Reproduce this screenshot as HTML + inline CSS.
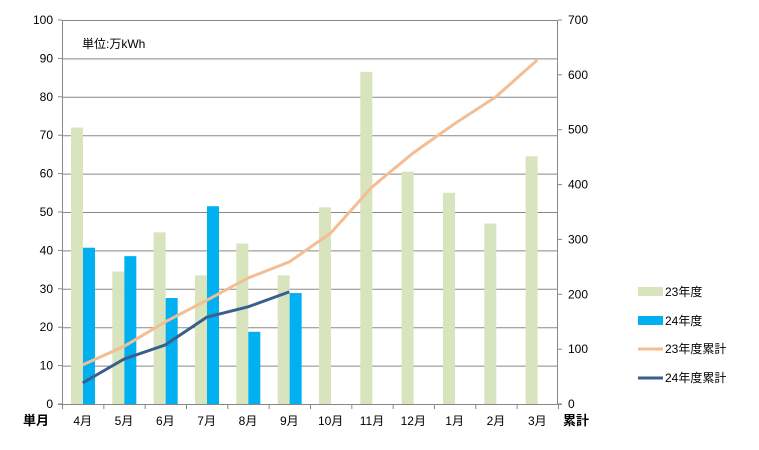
<!DOCTYPE html>
<html><head><meta charset="utf-8"><style>
body{margin:0;background:#fff}
text{font-family:"Liberation Sans","Noto Sans CJK JP",sans-serif;font-size:12px;fill:#000}
</style></head><body>
<svg width="759" height="445" xmlns="http://www.w3.org/2000/svg">
<g stroke="#888" stroke-width="1">
<line x1="62" y1="20.5" x2="558" y2="20.5"/><line x1="62" y1="58.9" x2="558" y2="58.9"/><line x1="62" y1="97.3" x2="558" y2="97.3"/><line x1="62" y1="135.7" x2="558" y2="135.7"/><line x1="62" y1="174.1" x2="558" y2="174.1"/><line x1="62" y1="212.5" x2="558" y2="212.5"/><line x1="62" y1="250.9" x2="558" y2="250.9"/><line x1="62" y1="289.3" x2="558" y2="289.3"/><line x1="62" y1="327.7" x2="558" y2="327.7"/><line x1="62" y1="366.1" x2="558" y2="366.1"/>
</g>
<g id="bars"></g>
<g stroke="#888" fill="none">
<line x1="62.5" y1="20" x2="62.5" y2="404"/><line x1="557.5" y1="20" x2="557.5" y2="404"/><line x1="58" y1="404.5" x2="562" y2="404.5"/>
</g>
<g id="ticks" stroke="#888"></g>
<polyline id="l1" fill="none" stroke="#F4BE94" stroke-width="3"/>
<polyline id="l2" fill="none" stroke="#3A5F8F" stroke-width="3"/>
<g id="labels"></g>
<text x="82" y="48">単位:万kWh</text>
<text x="23" y="425" font-weight="bold" style="font-size:13px">単月</text>
<text x="563" y="425" font-weight="bold" style="font-size:13px">累計</text>
<rect x="638" y="287" width="25" height="9" fill="#D7E4BD"/><text x="665" y="296">23年度</text>
<rect x="638" y="316" width="25" height="9" fill="#00B0F0"/><text x="665" y="325">24年度</text>
<line x1="638" y1="349" x2="663" y2="349" stroke="#F4BE94" stroke-width="3"/><text x="665" y="353">23年度累計</text>
<line x1="638" y1="378" x2="663" y2="378" stroke="#3A5F8F" stroke-width="3"/><text x="665" y="382">24年度累計</text>
</svg>
<script>
const ns="http://www.w3.org/2000/svg",Y=v=>404-v*3.84,W=41.33;
const g=[72,34.5,44.7,33.5,41.8,33.5,51.2,86.5,60.5,55,47,64.5],b=[40.7,38.5,27.6,51.5,18.8,28.9];
const o=[10.2,15,21.4,27,32.8,37,44.5,56.5,65.4,73,80,89.6],d=[5.5,11.7,15.4,22.6,25.3,29.2];
const m=["4月","5月","6月","7月","8月","9月","10月","11月","12月","1月","2月","3月"];
function el(t,a,p,txt){const e=document.createElementNS(ns,t);for(const k in a)e.setAttribute(k,a[k]);if(txt)e.textContent=txt;document.getElementById(p).appendChild(e);}
g.forEach((v,i)=>{const x=62+i*W;el("rect",{x:x+9,y:Y(v),width:12,height:v*3.84,fill:"#D7E4BD"},"bars");
if(b[i]!==undefined)el("rect",{x:x+21,y:Y(b[i]),width:12,height:b[i]*3.84,fill:"#00B0F0"},"bars");
el("text",{x:x+W/2,y:425,"text-anchor":"middle"},"labels",m[i]);});
for(let i=0;i<=12;i++){const x=62.5+i*W;el("line",{x1:x,y1:404,x2:x,y2:409},"ticks");}
for(let i=0;i<=10;i++){el("text",{x:53,y:Y(i*10)+4,"text-anchor":"end"},"labels",String(i*10));el("line",{x1:58,y1:Y(i*10),x2:62,y2:Y(i*10)},"ticks");}
for(let i=0;i<=7;i++){const y=404-i*384/7;el("text",{x:568,y:y+4},"labels",String(i*100));el("line",{x1:558,y1:y,x2:562,y2:y},"ticks");}
document.getElementById("l1").setAttribute("points",o.map((v,i)=>(62+i*W+W/2)+","+Y(v)).join(" "));
document.getElementById("l2").setAttribute("points",d.map((v,i)=>(62+i*W+W/2)+","+Y(v)).join(" "));
</script>
</body></html>
